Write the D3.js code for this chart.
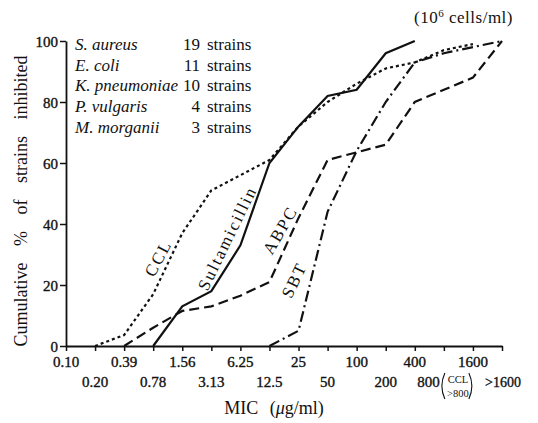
<!DOCTYPE html>
<html>
<head>
<meta charset="utf-8">
<script src="https://cdn.jsdelivr.net/npm/d3@7/dist/d3.min.js"></script>
<style>
  body { margin: 0; background: #fff; }
  svg text { font-family: "Liberation Serif", "DejaVu Serif", serif; fill: #111; }
</style>
</head>
<body>
<svg></svg>
<script>
// MIC steps (index positions along the x axis)
let topLabels = ['0.10', '0.39', '1.56', '6.25', '25', '100', '400', '1600'];
let bottomLabels = ['0.20', '0.78', '3.13', '12.5', '50', '200', '800', '>1600'];
let yTicks = [0, 20, 40, 60, 80, 100];

// cumulative % inhibited, [step index, value]
let sultamicillin = [[3, 0], [4, 13], [5, 18], [6, 33], [7, 60], [8, 72], [9, 82], [10, 84], [11, 96], [12, 100]];
let ccl = [[1, 0], [2, 3.6], [3, 17], [4, 37], [5, 51], [6, 56], [7, 61], [8, 72], [9, 80], [10, 86], [11, 91], [12, 93], [13, 97], [14, 99]];
let abpc = [[2, 0], [3, 6], [4, 11.5], [5, 13], [6, 16.5], [7, 21], [8, 42], [9, 61], [10, 63.5], [11, 66], [12, 80], [13, 84], [14, 88], [15, 100]];
let sbt = [[7, 0], [8, 5], [9, 44], [10, 64], [11, 80], [12, 93], [13, 96], [14, 98], [15, 100]];

let species = ['S. aureus', 'E. coli', 'K. pneumoniae', 'P. vulgaris', 'M. morganii'];
let strainCounts = [19, 11, 10, 4, 3];

let width = 538;
let height = 423;

let svg = d3.select('svg').attr('width', width).attr('height', height);

let xScale = d3.scaleLinear().domain([0, 15]).range([66, 502]);
let yScale = d3.scaleLinear().domain([0, 100]).range([346, 41]);

// axes
let yAxis = d3.axisLeft(yScale).tickValues(yTicks).tickSize(6).tickSizeOuter(0).tickPadding(2);
let gy = svg.append('g')
  .attr('transform', 'translate(' + xScale(0) + ',0)')
  .call(yAxis);
gy.selectAll('text')
  .style('font-size', '15px')
  .attr('dy', '0.35em')
  .attr('stroke', '#111')
  .attr('stroke-width', 0.35);

let xAxis = d3.axisBottom(xScale).tickValues(d3.range(16)).tickSize(5).tickSizeOuter(0).tickFormat('');
let gx = svg.append('g')
  .attr('transform', 'translate(0,' + yScale(0) + ')')
  .call(xAxis);

svg.selectAll('.domain').attr('stroke', '#111').attr('stroke-width', 1.8);
svg.selectAll('.tick line').attr('stroke', '#111').attr('stroke-width', 1.5);

// x tick labels, two rows
let xlab = svg.append('g').attr('stroke', '#111').attr('stroke-width', 0.35);
xlab.selectAll('.top')
  .data(topLabels)
  .enter()
  .append('text')
  .attr('x', (d, i) => xScale(i * 2))
  .attr('y', 367)
  .attr('text-anchor', 'middle')
  .style('font-size', '15px')
  .text(d => d);

xlab.selectAll('.bot')
  .data(bottomLabels)
  .enter()
  .append('text')
  .attr('x', (d, i) => {
    if (d === '800') return xScale(i * 2 + 1) - 4;
    if (d === '>1600') return xScale(i * 2 + 1) + 1;
    return xScale(i * 2 + 1);
  })
  .attr('y', 387)
  .attr('text-anchor', d => d === '800' ? 'end' : 'middle')
  .style('font-size', d => d === '>1600' ? '14px' : '15px')
  .text(d => d);

// (CCL >800) bracket next to 800
let bx = xScale(13) - 3;
let paren = (x0, dir) => {
  let p = d3.path();
  p.moveTo(x0 + 3 * dir, 373);
  p.quadraticCurveTo(x0 - 3 * dir, 386, x0 + 3 * dir, 399);
  return p.toString();
};
svg.append('path').attr('d', paren(bx + 1, 1)).attr('fill', 'none').attr('stroke', '#111').attr('stroke-width', 1.1);
svg.append('path').attr('d', paren(bx + 31, -1)).attr('fill', 'none').attr('stroke', '#111').attr('stroke-width', 1.1);
svg.append('text').attr('x', bx + 17).attr('y', 383).attr('text-anchor', 'middle').style('font-size', '10.5px').text('CCL');
svg.append('text').attr('x', bx + 17).attr('y', 397).attr('text-anchor', 'middle').style('font-size', '10.5px').text('>800');

// axis titles
svg.append('text')
  .attr('x', 274)
  .attr('y', 414)
  .attr('text-anchor', 'middle')
  .style('font-size', '18px')
  .style('word-spacing', '7px')
  .html('MIC (<tspan font-style="italic">μ</tspan>g/ml)');

svg.append('text')
  .attr('transform', 'translate(27,' + 201 + ') rotate(-90)')
  .attr('text-anchor', 'middle')
  .style('font-size', '18px')
  .style('word-spacing', '12px')
  .text('Cumulative % of strains inhibited');

svg.append('text')
  .attr('x', 513)
  .attr('y', 23)
  .attr('text-anchor', 'end')
  .style('font-size', '17px')
  .style('letter-spacing', '0.5px')
  .html('(10<tspan dy="-6" font-size="11px">6</tspan><tspan dy="6"> cells/ml)</tspan>');

// legend
let legend = svg.append('g');
legend.selectAll('.sp')
  .data(species)
  .enter()
  .append('text')
  .attr('class', 'sp')
  .attr('x', 75)
  .attr('y', (d, i) => 50 + i * 20.7)
  .style('font-size', '17px')
  .style('font-style', 'italic')
  .text(d => d);
legend.selectAll('.num')
  .data(strainCounts)
  .enter()
  .append('text')
  .attr('class', 'num')
  .attr('x', 200)
  .attr('y', (d, i) => 50 + i * 20.7)
  .attr('text-anchor', 'end')
  .style('font-size', '17px')
  .text(d => d);
legend.selectAll('.st')
  .data(strainCounts)
  .enter()
  .append('text')
  .attr('class', 'st')
  .attr('x', 207)
  .attr('y', (d, i) => 50 + i * 20.7)
  .style('font-size', '17px')
  .text('strains');

// curves
let line = d3.line().x(d => xScale(d[0])).y(d => yScale(d[1]));

let curves = [
  { data: ccl, dash: '3,3' },
  { data: abpc, dash: '10,5' },
  { data: sbt, dash: '11,4,2,4' },
  { data: sultamicillin, dash: null }
];

svg.selectAll('.curve')
  .data(curves)
  .enter()
  .append('path')
  .attr('class', 'curve')
  .attr('d', d => line(d.data))
  .attr('fill', 'none')
  .attr('stroke', '#111')
  .attr('stroke-width', 2.2)
  .attr('stroke-dasharray', d => d.dash);

// curve names
let names = [
  { text: 'CCL', x: 158, y: 258, angle: -62 },
  { text: 'Sultamicillin', x: 227, y: 238, angle: -64 },
  { text: 'ABPC', x: 280, y: 230, angle: -60 },
  { text: 'SBT', x: 294, y: 280, angle: -64 }
];
svg.selectAll('.name')
  .data(names)
  .enter()
  .append('text')
  .attr('class', 'name')
  .attr('transform', d => 'translate(' + d.x + ',' + d.y + ') rotate(' + d.angle + ')')
  .attr('text-anchor', 'middle')
  .attr('dy', '0.35em')
  .style('font-size', '17px')
  .style('letter-spacing', '2px')
  .text(d => d.text);
</script>
</body>
</html>
